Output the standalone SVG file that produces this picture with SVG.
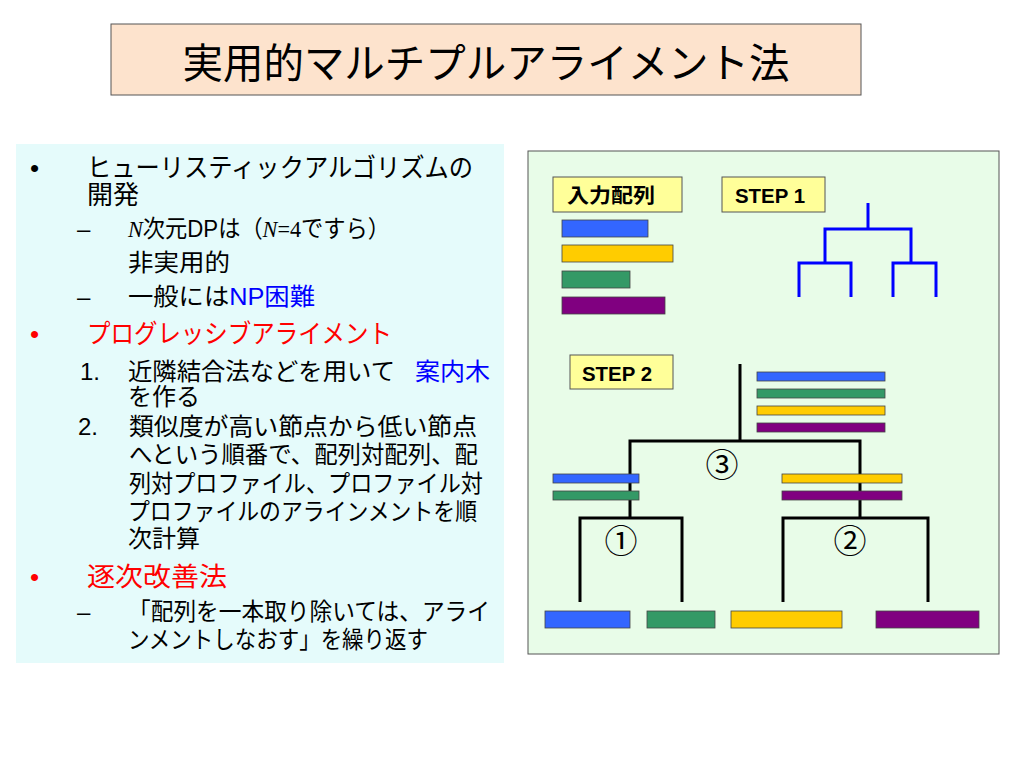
<svg xmlns="http://www.w3.org/2000/svg" width="1024" height="768" viewBox="0 0 1024 768">
<style>
  .jp { font-family: "Liberation Sans", "Noto Sans CJK JP", sans-serif; }
  .t24 { font-size: 24px; fill: #000; }
  .t26 { font-size: 26px; fill: #000; }
  .red { fill: #ff0000; }
  .blue { fill: #0000ff; }
  .lbl { font-size: 20px; font-weight: bold; fill: #000; }
  .lblbox { fill: #ffff99; stroke: #555; stroke-width: 1; }
  .bar { stroke: #444; stroke-width: 0.8; }
  .b { fill: #3366ff; }
  .y { fill: #ffcc00; }
  .g { fill: #339966; }
  .p { fill: #800080; }
  .tree1 { fill: none; stroke: #0000ff; stroke-width: 3; }
  .tree2 { fill: none; stroke: #000; stroke-width: 3; }
  .num { font-size: 33px; fill: #000; text-anchor: middle; }
</style>

<!-- Title -->
<g id="title">
  <rect x="111" y="24" width="750" height="71" fill="#fde3cd" stroke="#555" stroke-width="1"/>
  <text class="jp" x="486" y="78" font-size="41" text-anchor="middle" textLength="607" lengthAdjust="spacingAndGlyphs">実用的マルチプルアライメント法</text>
</g>

<!-- Left text panel -->
<g id="text-panel">
  <rect x="16" y="144" width="488" height="519" fill="#e5fbfb"/>
  <text class="jp t26" x="30" y="177">•</text>
  <text class="jp t26" x="87" y="177" textLength="386" lengthAdjust="spacingAndGlyphs">ヒューリスティックアルゴリズムの</text>
  <text class="jp t26" x="87" y="204">開発</text>

  <text class="jp t24" x="77" y="237">–</text>
  <text class="jp t24" x="128" y="237" textLength="262" lengthAdjust="spacingAndGlyphs"><tspan font-family="Liberation Serif, serif" font-style="italic">N</tspan>次元DPは（<tspan font-family="Liberation Serif, serif" font-style="italic">N</tspan><tspan font-family="Liberation Serif, serif">=4</tspan>ですら）</text>
  <text class="jp t24" x="128" y="271" textLength="102" lengthAdjust="spacingAndGlyphs">非実用的</text>

  <text class="jp t24" x="77" y="305">–</text>
  <text class="jp t24" x="128" y="305" textLength="187" lengthAdjust="spacingAndGlyphs">一般には<tspan class="blue">NP困難</tspan></text>

  <text class="jp t26 red" x="30" y="343">•</text>
  <text class="jp t26 red" x="87" y="343" textLength="305" lengthAdjust="spacingAndGlyphs">プログレッシブアライメント</text>

  <text class="jp t24" x="80" y="380">1.</text>
  <text class="jp t24" x="128" y="380" textLength="267" lengthAdjust="spacingAndGlyphs">近隣結合法などを用いて</text>
  <text class="jp t24 blue" x="415" y="380" textLength="75" lengthAdjust="spacingAndGlyphs">案内木</text>
  <text class="jp t24" x="128" y="405">を作る</text>

  <text class="jp t24" x="78" y="435">2.</text>
  <text class="jp t24" x="129" y="435" textLength="348" lengthAdjust="spacingAndGlyphs">類似度が高い節点から低い節点</text>
  <text class="jp t24" x="129" y="463" textLength="349" lengthAdjust="spacingAndGlyphs">へという順番で、配列対配列、配</text>
  <text class="jp t24" x="129" y="492" textLength="354" lengthAdjust="spacingAndGlyphs">列対プロファイル、プロファイル対</text>
  <text class="jp t24" x="128" y="520" textLength="349" lengthAdjust="spacingAndGlyphs">プロファイルのアラインメントを順</text>
  <text class="jp t24" x="128" y="547">次計算</text>

  <text class="jp t26 red" x="30" y="586">•</text>
  <text class="jp t26 red" x="87" y="586" textLength="140" lengthAdjust="spacingAndGlyphs">逐次改善法</text>

  <text class="jp t24" x="77" y="620">–</text>
  <text class="jp t24" x="128" y="620" textLength="362" lengthAdjust="spacingAndGlyphs">「配列を一本取り除いては、アライ</text>
  <text class="jp t24" x="128" y="648" textLength="300" lengthAdjust="spacingAndGlyphs">ンメントしなおす」を繰り返す</text>
</g>

<!-- Right diagram panel -->
<g id="diagram-panel">
  <rect x="528" y="151" width="471" height="503" fill="#e8fce8" stroke="#555" stroke-width="1"/>
</g>

<g id="label-input">
  <rect class="lblbox" x="553" y="177" width="129" height="35"/>
  <text class="jp lbl" x="567" y="203" textLength="88" lengthAdjust="spacingAndGlyphs">入力配列</text>
</g>
<g id="label-step1">
  <rect class="lblbox" x="722" y="177" width="103" height="35"/>
  <text class="jp lbl" x="735" y="203" textLength="70" lengthAdjust="spacingAndGlyphs">STEP 1</text>
</g>
<g id="label-step2">
  <rect class="lblbox" x="570" y="355" width="103" height="34"/>
  <text class="jp lbl" x="582" y="381" textLength="70" lengthAdjust="spacingAndGlyphs">STEP 2</text>
</g>

<g id="input-sequences">
  <rect class="bar b" x="562" y="220" width="86" height="17"/>
  <rect class="bar y" x="562" y="245" width="111" height="17"/>
  <rect class="bar g" x="562" y="271" width="68" height="17"/>
  <rect class="bar p" x="562" y="297" width="103" height="17"/>
</g>

<g id="connectors">
  <!-- STEP 1 guide tree -->
  <path class="tree1" d="M868 203 V229 M825 263 V229 H911 V263 M799 297 V263 H851 V297 M893 297 V263 H936 V297"/>
  <!-- STEP 2 tree -->
  <path class="tree2" d="M740 364 V441 M630 518 V441 H860 V518 M580 602 V518 H682 V602 M783 602 V518 H928 V602"/>
</g>

<g id="profile-all">
  <rect class="bar b" x="757" y="372" width="128" height="9"/>
  <rect class="bar g" x="757" y="389" width="128" height="9"/>
  <rect class="bar y" x="757" y="406" width="128" height="9"/>
  <rect class="bar p" x="757" y="423" width="128" height="9"/>
</g>

<g id="profile-left">
  <rect class="bar b" x="553" y="474" width="86" height="9"/>
  <rect class="bar g" x="553" y="491" width="86" height="9"/>
</g>

<g id="profile-right">
  <rect class="bar y" x="782" y="474" width="120" height="9"/>
  <rect class="bar p" x="782" y="491" width="120" height="9"/>
</g>

<g id="leaf-sequences">
  <rect class="bar b" x="545" y="611" width="85" height="17"/>
  <rect class="bar g" x="647" y="611" width="68" height="17"/>
  <rect class="bar y" x="731" y="611" width="111" height="17"/>
  <rect class="bar p" x="876" y="611" width="103" height="17"/>
</g>

<g id="step-numbers">
  <text class="jp num" x="722" y="477">③</text>
  <text class="jp num" x="621" y="553">①</text>
  <text class="jp num" x="850" y="553">②</text>
</g>
</svg>
